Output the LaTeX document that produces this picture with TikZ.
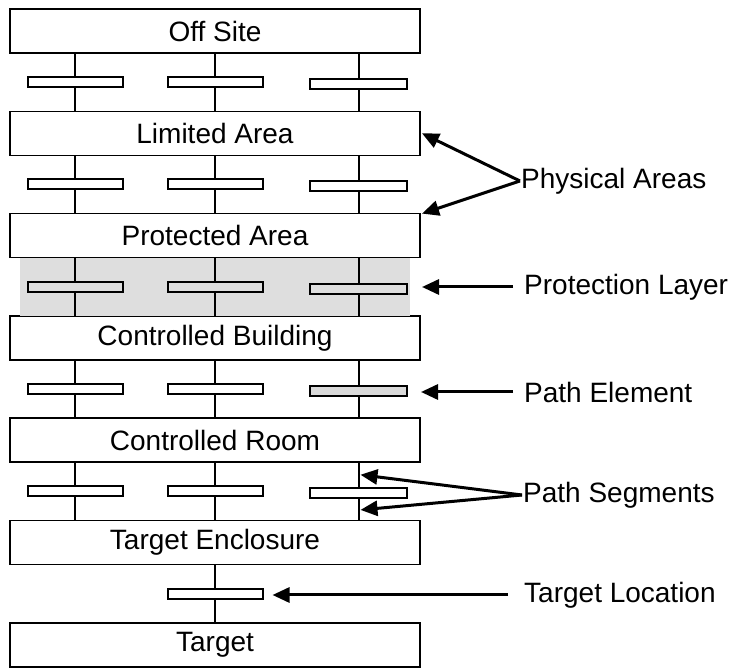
\documentclass[tikz,border=0pt]{standalone}
\usepackage{fontspec}
\setmainfont{Liberation Sans}
\usetikzlibrary{positioning, calc, arrows.meta}

\tikzset{
  area/.style={draw, line width=1.5pt, outer sep=0pt, minimum width=410pt, minimum height=44pt, inner sep=0pt, font=\fontsize{28}{32}\selectfont},
  pathel/.style={draw, line width=2pt, fill=white, minimum width=95pt, minimum height=10pt, inner sep=0pt},
  seg/.style={line width=2pt},
  layerfill/.style={fill=black!13},
  pointer/.style={line width=3pt, -{Triangle[length=17pt, width=15pt]}},
  callout/.style={inner sep=1pt, anchor=west, font=\fontsize{28}{32}\selectfont},
}

\begin{document}
\begin{tikzpicture}[x=1pt, y=-1pt, node distance=58.3pt]
    \useasboundingbox (0,0) rectangle (732,668);
    % physical areas, top to bottom
    \node[area] (offsite) at (215,31) {Off Site};
    \node[area, below=of offsite] (limited) {Limited Area};
    \node[area, below=of limited] (protected) {Protected Area};
    \node[area, below=of protected] (building) {Controlled Building};
    \node[area, below=of building] (room) {Controlled Room};
    \node[area, below=of room] (enclosure) {Target Enclosure};
    \node[area, below=of enclosure] (target) {Target};
    % protection layer shading
    \fill[layerfill] ([xshift=10pt]protected.south west) rectangle ([xshift=-10pt]building.north east);
    % gaps between areas
    \coordinate (g1) at ($(offsite.south)!.5!(limited.north)$);
    \coordinate (g2) at ($(limited.south)!.5!(protected.north)$);
    \coordinate (g3) at ($(protected.south)!.5!(building.north)$);
    \coordinate (g4) at ($(building.south)!.5!(room.north)$);
    \coordinate (g5) at ($(room.south)!.5!(enclosure.north)$);
    \coordinate (g6) at ($(enclosure.south)!.5!(target.north)$);
    % path elements
    \node[pathel, xshift=-140pt] (e11) at (g1) {};
    \node[pathel] (e12) at (g1) {};
    \node[pathel, xshift=143.5pt, yshift=-2pt, minimum width=97pt] (e13) at (g1) {};
    \node[pathel, xshift=-140pt] (e21) at (g2) {};
    \node[pathel] (e22) at (g2) {};
    \node[pathel, xshift=143.5pt, yshift=-2pt, minimum width=97pt] (e23) at (g2) {};
    \node[pathel, xshift=-140pt, fill=black!13] (e31) at (g3) {};
    \node[pathel, fill=black!13] (e32) at (g3) {};
    \node[pathel, xshift=143.5pt, yshift=-2pt, minimum width=97pt, fill=black!13] (e33) at (g3) {};
    \node[pathel, xshift=-140pt] (e41) at (g4) {};
    \node[pathel] (e42) at (g4) {};
    \node[pathel, xshift=143.5pt, yshift=-2pt, minimum width=97pt, fill=black!15] (e43) at (g4) {};
    \node[pathel, xshift=-140pt] (e51) at (g5) {};
    \node[pathel] (e52) at (g5) {};
    \node[pathel, xshift=143.5pt, yshift=-2pt, minimum width=97pt] (e53) at (g5) {};
    \node[pathel] (e61) at (g6) {};
    % path segments
    \draw[seg] (e11) -- (e11 |- offsite.south) (e11) -- (e11 |- limited.north);
    \draw[seg] (e12) -- (e12 |- offsite.south) (e12) -- (e12 |- limited.north);
    \draw[seg] (e13) -- (e13 |- offsite.south) (e13) -- (e13 |- limited.north);
    \draw[seg] (e21) -- (e21 |- limited.south) (e21) -- (e21 |- protected.north);
    \draw[seg] (e22) -- (e22 |- limited.south) (e22) -- (e22 |- protected.north);
    \draw[seg] (e23) -- (e23 |- limited.south) (e23) -- (e23 |- protected.north);
    \draw[seg] (e31) -- (e31 |- protected.south) (e31) -- (e31 |- building.north);
    \draw[seg] (e32) -- (e32 |- protected.south) (e32) -- (e32 |- building.north);
    \draw[seg] (e33) -- (e33 |- protected.south) (e33) -- (e33 |- building.north);
    \draw[seg] (e41) -- (e41 |- building.south) (e41) -- (e41 |- room.north);
    \draw[seg] (e42) -- (e42 |- building.south) (e42) -- (e42 |- room.north);
    \draw[seg] (e43) -- (e43 |- building.south) (e43) -- (e43 |- room.north);
    \draw[seg] (e51) -- (e51 |- room.south) (e51) -- (e51 |- enclosure.north);
    \draw[seg] (e52) -- (e52 |- room.south) (e52) -- (e52 |- enclosure.north);
    \draw[seg] (e53) -- (e53 |- room.south) (e53) -- (e53 |- enclosure.north);
    \draw[seg] (e61) -- (e61 |- enclosure.south) (e61) -- (e61 |- target.north);
    % callouts
    \node[callout] (physical) at (520,181) {Physical Areas};
    \draw[pointer] (physical.west) -- ([xshift=2pt]limited.east);
    \draw[pointer] (physical.west) -- ([xshift=2pt]protected.north east);
    \node[callout] (layer) at (523,287) {Protection Layer};
    \draw[pointer] ([xshift=-10pt]layer.west) -- ([xshift=2pt]layer.west -| protected.east);
    \node[callout] (element) at (523,392) {Path Element};
    \draw[pointer] ([xshift=-10pt]element.west) -- ([xshift=13pt]element.west -| e43.east);
    \node[callout] (segments) at (522,495) {Path Segments};
    \draw[pointer] (segments.west) -- ([xshift=2pt]$(e53.north)!.5!(e53.north |- room.south)$);
    \draw[pointer] (segments.west) -- ([xshift=2pt]$(e53.south)!.5!(e53.south |- enclosure.north)$);
    \node[callout] (location) at (523,595) {Target Location};
    \draw[pointer] ([xshift=-15pt]location.west) -- ([xshift=9pt]location.west -| e61.east);
\end{tikzpicture}
\end{document}
